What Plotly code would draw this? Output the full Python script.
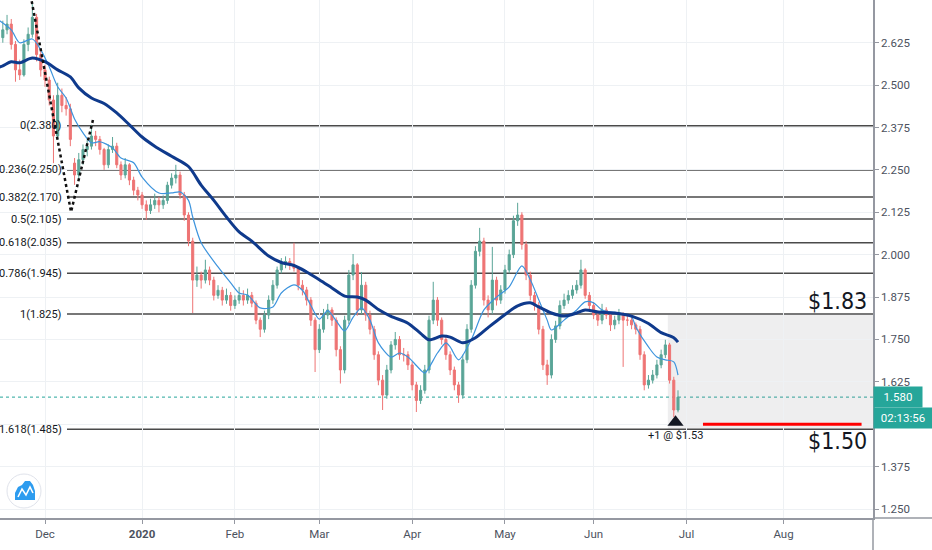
import pandas as pd
import plotly.graph_objects as go

# daily bars (weekdays, Nov 18 2019 .. Jun 29 2020)
dates = pd.bdate_range("2019-11-18", "2020-06-29")

opens = [2.640, 2.663, 2.680, 2.620, 2.545, 2.530, 2.620, 2.650, 2.700, 2.590,
         2.545, 2.515, 2.456, 2.350, 2.470, 2.440, 2.430, 2.270, 2.235, 2.280,
         2.310, 2.320, 2.350, 2.340, 2.310, 2.265, 2.310, 2.320, 2.265, 2.235,
         2.265, 2.220, 2.190, 2.176, 2.147, 2.130, 2.147, 2.160, 2.147, 2.160,
         2.205, 2.226, 2.235, 2.176, 2.117, 2.040, 1.925, 1.940, 1.925, 1.955,
         1.925, 1.880, 1.895, 1.866, 1.880, 1.850, 1.866, 1.880, 1.866, 1.880,
         1.857, 1.807, 1.780, 1.822, 1.866, 1.910, 1.955, 1.976, 1.980, 1.970,
         1.960, 1.910, 1.896, 1.866, 1.807, 1.720, 1.780, 1.822, 1.837, 1.807,
         1.720, 1.660, 1.807, 1.940, 1.970, 1.837, 1.910, 1.822, 1.780, 1.705,
         1.630, 1.586, 1.660, 1.734, 1.750, 1.705, 1.705, 1.675, 1.616, 1.570,
         1.600, 1.660, 1.807, 1.866, 1.807, 1.750, 1.705, 1.660, 1.616, 1.586,
         1.690, 1.780, 1.910, 2.010, 2.040, 1.866, 1.837, 1.925, 1.866, 1.896,
         1.955, 2.000, 2.100, 2.117, 2.030, 1.940, 1.880, 1.850, 1.780, 1.675,
         1.645, 1.750, 1.790, 1.850, 1.866, 1.880, 1.896, 1.910, 1.955, 1.880,
         1.850, 1.822, 1.807, 1.837, 1.822, 1.793, 1.807, 1.822, 1.807, 1.807,
         1.793, 1.780, 1.705, 1.616, 1.630, 1.645, 1.675, 1.705, 1.734, 1.630,
         1.542]
highs = [2.690, 2.707, 2.695, 2.630, 2.575, 2.635, 2.670, 2.740, 2.710, 2.600,
         2.560, 2.525, 2.470, 2.507, 2.490, 2.465, 2.445, 2.285, 2.300, 2.325,
         2.340, 2.383, 2.365, 2.350, 2.315, 2.325, 2.347, 2.330, 2.275, 2.285,
         2.270, 2.230, 2.200, 2.185, 2.160, 2.165, 2.180, 2.170, 2.175, 2.215,
         2.240, 2.265, 2.245, 2.185, 2.125, 2.050, 1.965, 1.950, 1.985, 1.965,
         1.935, 1.910, 1.905, 1.900, 1.890, 1.880, 1.905, 1.895, 1.900, 1.890,
         1.865, 1.815, 1.835, 1.880, 1.925, 1.965, 1.990, 1.995, 1.990, 2.035,
         1.965, 1.925, 1.905, 1.875, 1.815, 1.795, 1.840, 1.855, 1.845, 1.815,
         1.730, 1.820, 1.955, 2.002, 1.975, 1.949, 1.920, 1.835, 1.790, 1.715,
         1.645, 1.675, 1.745, 1.772, 1.760, 1.725, 1.715, 1.685, 1.625, 1.615,
         1.675, 1.820, 1.920, 1.875, 1.815, 1.760, 1.715, 1.670, 1.625, 1.705,
         1.795, 1.925, 2.025, 2.079, 2.050, 1.880, 2.023, 1.935, 1.910, 1.970,
         2.015, 2.115, 2.153, 2.125, 2.040, 1.950, 1.890, 1.860, 1.790, 1.690,
         1.765, 1.805, 1.865, 1.885, 1.895, 1.910, 1.925, 1.985, 1.960, 1.890,
         1.860, 1.835, 1.855, 1.845, 1.830, 1.820, 1.840, 1.830, 1.825, 1.815,
         1.800, 1.790, 1.715, 1.645, 1.660, 1.690, 1.720, 1.749, 1.740, 1.640,
         1.600]
lows = [2.625, 2.650, 2.605, 2.510, 2.515, 2.525, 2.600, 2.640, 2.570, 2.525,
        2.495, 2.440, 2.270, 2.340, 2.420, 2.410, 2.320, 2.206, 2.225, 2.265,
        2.290, 2.310, 2.320, 2.295, 2.250, 2.255, 2.300, 2.255, 2.220, 2.225,
        2.205, 2.175, 2.160, 2.135, 2.103, 2.120, 2.135, 2.125, 2.135, 2.150,
        2.195, 2.210, 2.165, 2.100, 2.025, 1.828, 1.905, 1.900, 1.915, 1.910,
        1.865, 1.870, 1.850, 1.855, 1.835, 1.840, 1.855, 1.850, 1.855, 1.845,
        1.795, 1.757, 1.770, 1.810, 1.855, 1.900, 1.945, 1.960, 1.955, 1.950,
        1.895, 1.880, 1.850, 1.790, 1.654, 1.710, 1.770, 1.810, 1.790, 1.700,
        1.620, 1.650, 1.795, 1.925, 1.820, 1.825, 1.805, 1.765, 1.690, 1.615,
        1.542, 1.575, 1.650, 1.720, 1.690, 1.685, 1.660, 1.600, 1.536, 1.560,
        1.590, 1.650, 1.795, 1.790, 1.735, 1.690, 1.645, 1.600, 1.563, 1.575,
        1.680, 1.770, 1.900, 1.995, 1.850, 1.815, 1.825, 1.850, 1.855, 1.885,
        1.945, 1.990, 2.085, 2.015, 1.925, 1.865, 1.835, 1.765, 1.660, 1.616,
        1.635, 1.740, 1.780, 1.840, 1.855, 1.870, 1.885, 1.900, 1.870, 1.835,
        1.810, 1.790, 1.795, 1.810, 1.775, 1.780, 1.795, 1.669, 1.790, 1.780,
        1.765, 1.690, 1.600, 1.605, 1.620, 1.635, 1.665, 1.695, 1.620, 1.521,
        1.535]
closes = [2.663, 2.680, 2.620, 2.545, 2.530, 2.620, 2.650, 2.700, 2.590, 2.545,
          2.515, 2.456, 2.350, 2.470, 2.440, 2.430, 2.340, 2.235, 2.280, 2.310,
          2.320, 2.350, 2.340, 2.310, 2.265, 2.310, 2.320, 2.265, 2.235, 2.265,
          2.220, 2.190, 2.176, 2.147, 2.130, 2.147, 2.160, 2.147, 2.160, 2.205,
          2.226, 2.235, 2.176, 2.117, 2.040, 1.925, 1.940, 1.925, 1.955, 1.925,
          1.880, 1.895, 1.866, 1.880, 1.850, 1.866, 1.880, 1.866, 1.880, 1.857,
          1.807, 1.780, 1.822, 1.866, 1.910, 1.955, 1.976, 1.980, 1.970, 1.960,
          1.910, 1.896, 1.866, 1.807, 1.720, 1.780, 1.822, 1.837, 1.807, 1.720,
          1.660, 1.807, 1.940, 1.970, 1.837, 1.910, 1.822, 1.780, 1.705, 1.630,
          1.586, 1.660, 1.734, 1.750, 1.705, 1.705, 1.675, 1.616, 1.570, 1.600,
          1.660, 1.807, 1.866, 1.807, 1.750, 1.705, 1.660, 1.616, 1.586, 1.690,
          1.780, 1.910, 2.010, 2.040, 1.866, 1.837, 1.925, 1.866, 1.896, 1.955,
          2.000, 2.100, 2.117, 2.030, 1.940, 1.880, 1.850, 1.780, 1.675, 1.645,
          1.750, 1.790, 1.850, 1.866, 1.880, 1.896, 1.910, 1.955, 1.880, 1.850,
          1.822, 1.807, 1.837, 1.822, 1.793, 1.807, 1.822, 1.807, 1.807, 1.793,
          1.780, 1.705, 1.616, 1.630, 1.645, 1.675, 1.705, 1.734, 1.630, 1.542,
          1.580]

# moving averages
slow_dates = ["2019-11-15", "2019-11-18", "2019-11-20", "2019-11-22", "2019-11-27",
              "2019-12-02", "2019-12-05", "2019-12-10", "2019-12-12", "2019-12-17",
              "2019-12-20", "2019-12-25", "2019-12-30", "2020-01-02", "2020-01-07",
              "2020-01-13", "2020-01-17", "2020-01-22", "2020-01-27", "2020-01-30",
              "2020-02-04", "2020-02-07", "2020-02-13", "2020-02-18", "2020-02-21",
              "2020-02-26", "2020-03-02", "2020-03-05", "2020-03-10", "2020-03-13",
              "2020-03-17", "2020-03-20", "2020-03-25", "2020-03-31", "2020-04-03",
              "2020-04-07", "2020-04-10", "2020-04-14", "2020-04-17", "2020-04-22",
              "2020-04-27", "2020-04-30", "2020-05-06", "2020-05-11", "2020-05-13",
              "2020-05-18", "2020-05-21", "2020-05-26", "2020-05-28", "2020-06-02",
              "2020-06-08", "2020-06-12", "2020-06-18", "2020-06-23", "2020-06-26",
              "2020-06-29"]
slow_ma = [2.552, 2.557, 2.569, 2.566, 2.580, 2.569, 2.545, 2.524, 2.492, 2.462,
           2.446, 2.418, 2.383, 2.347, 2.320, 2.290, 2.260, 2.205, 2.160, 2.111,
           2.067, 2.040, 1.996, 1.977, 1.968, 1.949, 1.926, 1.902, 1.878, 1.875,
           1.866, 1.838, 1.818, 1.798, 1.768, 1.749, 1.760, 1.757, 1.740, 1.755,
           1.785, 1.814, 1.849, 1.858, 1.846, 1.828, 1.819, 1.828, 1.837, 1.831,
           1.828, 1.819, 1.797, 1.770, 1.755, 1.742]

fast_dates = ["2019-11-15", "2019-11-20", "2019-11-22", "2019-11-27", "2019-11-29",
              "2019-12-03", "2019-12-05", "2019-12-09", "2019-12-11", "2019-12-13",
              "2019-12-17", "2019-12-19", "2019-12-24", "2019-12-26", "2019-12-31",
              "2020-01-02", "2020-01-08", "2020-01-13", "2020-01-15", "2020-01-17",
              "2020-01-20", "2020-01-22", "2020-01-28", "2020-01-31", "2020-02-04",
              "2020-02-06", "2020-02-11", "2020-02-14", "2020-02-18", "2020-02-21",
              "2020-02-25", "2020-02-27", "2020-03-02", "2020-03-04", "2020-03-06",
              "2020-03-10", "2020-03-12", "2020-03-16", "2020-03-18", "2020-03-20",
              "2020-03-25", "2020-03-27", "2020-03-31", "2020-04-03", "2020-04-06",
              "2020-04-09", "2020-04-13", "2020-04-14", "2020-04-16", "2020-04-21",
              "2020-04-24", "2020-04-29", "2020-05-04", "2020-05-07", "2020-05-11",
              "2020-05-13", "2020-05-15", "2020-05-18", "2020-05-21", "2020-05-26",
              "2020-05-28", "2020-06-01", "2020-06-03", "2020-06-09", "2020-06-12",
              "2020-06-15", "2020-06-18", "2020-06-22", "2020-06-24", "2020-06-26",
              "2020-06-29"]
fast_ma = [2.692, 2.663, 2.625, 2.636, 2.604, 2.554, 2.495, 2.462, 2.400, 2.359,
           2.330, 2.333, 2.315, 2.285, 2.271, 2.229, 2.182, 2.182, 2.185, 2.160,
           2.111, 2.035, 1.964, 1.917, 1.887, 1.881, 1.843, 1.846, 1.887, 1.911,
           1.895, 1.850, 1.810, 1.835, 1.805, 1.775, 1.815, 1.843, 1.807, 1.740,
           1.698, 1.710, 1.698, 1.660, 1.651, 1.710, 1.740, 1.728, 1.690, 1.749,
           1.837, 1.875, 1.905, 1.967, 1.926, 1.867, 1.807, 1.778, 1.807, 1.837,
           1.861, 1.858, 1.837, 1.828, 1.816, 1.787, 1.728, 1.698, 1.690, 1.684,
           1.645]

# fibonacci retracement drawn on the chart
fib_ratios = ["0", "0.236", "0.382", "0.5", "0.618", "0.786", "1", "1.618"]
fib_prices = [2.380, 2.250, 2.170, 2.105, 2.035, 1.945, 1.825, 1.485]

# dotted swing drawing
swing_dates = ["2019-11-26 14:00", "2019-12-10 04:00", "2019-12-17 09:00"]
swing_prices = [2.765, 2.126, 2.398]

# trade / targets
trade_date = "2020-06-26 10:00"
trade_price = 1.53
trade_arrow_y = 1.506
target_high = 1.83
target_low = 1.50
zone_start = "2020-06-24 14:00"
stop_start, stop_end = "2020-07-06 22:00", "2020-08-27 12:00"
last_price = 1.580
countdown = "02:13:56"

month_ticks = ["2019-12-02", "2020-01-02", "2020-02-03", "2020-03-02", "2020-04-01",
               "2020-05-01", "2020-06-01", "2020-07-01", "2020-08-03"]
month_labels = ["Dec", "<b>2020</b>", "Feb", "Mar", "Apr", "May", "Jun", "Jul", "Aug"]
price_ticks = [1.25, 1.375, 1.5, 1.625, 1.75, 1.875, 2.0, 2.125, 2.25, 2.375, 2.5, 2.625]

x_range = ["2019-11-15 08:00", "2020-09-01 05:00"]
y_range = [1.2235, 2.751]

W, H = 932, 550
ML, MR, MT, MB = 0, 59, 0, 32
PW, PH = W - ML - MR, H - MT - MB


def px(x):
    return x / PW


def py(y):
    return (PH - y) / PH


FONT = "Roboto, Liberation Sans, sans-serif"
NARROW = "DejaVu Sans Condensed, sans-serif"
TEAL = "#26a69a"
AXIS = "#9598a1"

fig = go.Figure()

fig.add_trace(go.Candlestick(
    x=dates, open=opens, high=highs, low=lows, close=closes,
    increasing=dict(fillcolor="#5aa597", line=dict(color="#5aa597", width=1)),
    decreasing=dict(fillcolor="#ee7474", line=dict(color="#ee7474", width=1)),
    whiskerwidth=0, hoverinfo="skip", showlegend=False))

fig.add_trace(go.Scatter(x=fast_dates, y=fast_ma, mode="lines",
                         line=dict(color="#3d94dd", width=1.2, shape="spline", smoothing=0.8),
                         hoverinfo="skip", showlegend=False))
fig.add_trace(go.Scatter(x=slow_dates, y=slow_ma, mode="lines",
                         line=dict(color="#0f3a8c", width=3, shape="spline", smoothing=0.8),
                         hoverinfo="skip", showlegend=False))
fig.add_trace(go.Scatter(x=swing_dates, y=swing_prices, mode="lines",
                         line=dict(color="#111111", width=2.5, dash="dot"),
                         hoverinfo="skip", showlegend=False))
fig.add_trace(go.Scatter(x=[trade_date], y=[trade_arrow_y], mode="markers",
                         marker=dict(symbol="triangle-up", size=14, color="#131722"),
                         hoverinfo="skip", showlegend=False))
fig.add_trace(go.Scatter(x=[stop_start, stop_end], y=[target_low, target_low], mode="lines",
                         line=dict(color="#ff0000", width=3),
                         hoverinfo="skip", showlegend=False))

shapes = []
# target zone box
shapes.append(dict(type="rect", xref="x", yref="y", x0=zone_start, x1=x_range[1],
                   y0=fib_prices[-1], y1=fib_prices[-2],
                   fillcolor="rgba(120,123,134,0.13)", line=dict(width=0), layer="below"))
for p in fib_prices:
    shapes.append(dict(type="line", xref="paper", yref="y", x0=px(67), x1=1, y0=p, y1=p,
                       line=dict(color="#4a4a4a", width=1.5), layer="between"))
# last price line
shapes.append(dict(type="line", xref="paper", yref="y", x0=0, x1=1, y0=last_price, y1=last_price,
                   line=dict(color=TEAL, width=1, dash="dot"), layer="between"))
# scale borders run on past the plot corner
shapes.append(dict(type="line", xref="paper", yref="paper", x0=1, x1=px(W), y0=0, y1=0,
                   line=dict(color=AXIS, width=1.5)))
shapes.append(dict(type="line", xref="paper", yref="paper", x0=1, x1=1, y0=0, y1=py(H),
                   line=dict(color=AXIS, width=1.5)))
# logo badge
shapes.append(dict(type="circle", xref="paper", yref="paper",
                   x0=px(7), x1=px(41), y0=py(508), y1=py(474),
                   fillcolor="white", line=dict(color="#e0e3eb", width=1)))
cloud = [(15, 500), (15, 493), (18, 487), (22, 485), (25, 481), (30, 481),
         (33, 485), (35, 491), (35, 500)]
path = "M " + " L ".join(f"{px(a):.5f},{py(b):.5f}" for a, b in cloud) + " Z"
shapes.append(dict(type="path", xref="paper", yref="paper", path=path,
                   fillcolor="#2d9cef", line=dict(width=0)))
zig = [(18, 497), (22, 489), (26, 495), (30, 487), (33, 493)]
zpath = "M " + " L ".join(f"{px(a):.5f},{py(b):.5f}" for a, b in zig)
shapes.append(dict(type="path", xref="paper", yref="paper", path=zpath,
                   line=dict(color="white", width=1.6)))

annotations = []
for r, p in zip(fib_ratios, fib_prices):
    annotations.append(dict(xref="paper", yref="y", x=px(64), y=p, text=f"{r}({p:.3f})",
                            xanchor="right", yanchor="middle", showarrow=False,
                            font=dict(family=FONT, size=11, color="#131722")))
annotations.append(dict(xref="x", yref="paper", x=trade_date, y=py(435),
                        text=f"+1 @ ${trade_price:.2f}", xanchor="center", yanchor="middle",
                        showarrow=False, font=dict(family=FONT, size=11, color="#131722")))
annotations.append(dict(xref="paper", yref="paper", x=px(869), y=py(301),
                        text=f"${target_high:.2f}", xanchor="right", yanchor="middle",
                        showarrow=False, font=dict(family=NARROW, size=23, color="#131722")))
annotations.append(dict(xref="paper", yref="paper", x=px(869), y=py(441),
                        text=f"${target_low:.2f}", xanchor="right", yanchor="middle",
                        showarrow=False, font=dict(family=NARROW, size=23, color="#131722")))
annotations.append(dict(xref="paper", yref="y", x=1, y=last_price, text=f"{last_price:.3f}",
                        xanchor="left", yanchor="middle", showarrow=False,
                        bgcolor=TEAL, borderpad=3, width=42,
                        font=dict(family=FONT, size=11.5, color="white")))
annotations.append(dict(xref="paper", yref="paper", x=1, y=py(418), text=countdown,
                        xanchor="left", yanchor="middle", showarrow=False,
                        bgcolor=TEAL, borderpad=3, width=52,
                        font=dict(family=FONT, size=11.5, color="white")))

fig.update_layout(
    width=W, height=H,
    margin=dict(l=ML, r=MR, t=MT, b=MB),
    paper_bgcolor="white", plot_bgcolor="white",
    shapes=shapes, annotations=annotations,
    font=dict(family=FONT, size=11, color="#4c525e"),
    xaxis=dict(type="date", range=x_range, rangeslider=dict(visible=False),
               rangebreaks=[dict(bounds=["sat", "mon"])],
               tickvals=month_ticks, ticktext=month_labels,
               showgrid=True, gridcolor="#eef1f4", gridwidth=1,
               ticks="outside", ticklen=4, tickcolor=AXIS,
               showline=True, linecolor=AXIS, linewidth=1.5,
               tickfont=dict(family=FONT, size=11.5, color="#4c525e"), zeroline=False),
    yaxis=dict(range=y_range, side="right", tickvals=price_ticks, tickformat=".3f",
               showgrid=True, gridcolor="#eef1f4", gridwidth=1,
               ticks="outside", ticklen=4, tickcolor=AXIS,
               showline=True, linecolor=AXIS, linewidth=1.5,
               tickfont=dict(family=FONT, size=11.5, color="#4c525e"), zeroline=False),
)

# page body has a default margin; drop it so the chart sits at the window origin
fig.write_html("out.html", config={"displayModeBar": False},
               post_script="document.body.style.margin='0';")
